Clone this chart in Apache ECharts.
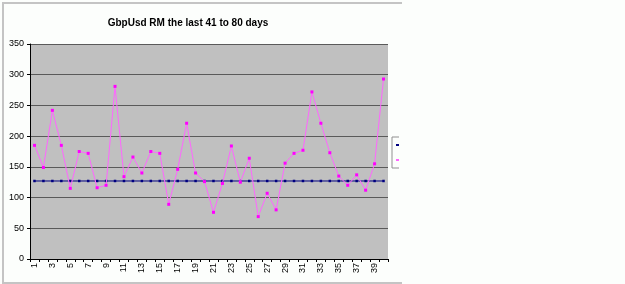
<!DOCTYPE html>
<html>
<head>
<meta charset="utf-8">
<script src="https://cdn.jsdelivr.net/npm/echarts@6/dist/echarts.min.js"></script>
<style>
  html, body { margin: 0; padding: 0; background: #fcfefc; }
  #clip { position: absolute; left: 0; top: 0; width: 399px; height: 284px; overflow: hidden; }
  #chart { position: absolute; left: 0; top: 0; width: 470px; height: 284px; }
  #frame { position: absolute; left: 2px; top: 2px; width: 398px; height: 278px;
           border-left: 2px solid #c4c4c4; border-top: 2px solid #c4c4c4; border-bottom: 2px solid #c4c4c4;
           pointer-events: none; }
</style>
</head>
<body>
<div id="clip"><div id="chart"></div></div>
<div id="frame"></div>
<script>
// day numbers 1..40
const days = [
  "1", "2", "3", "4", "5", "6", "7", "8", "9", "10",
  "11", "12", "13", "14", "15", "16", "17", "18", "19", "20",
  "21", "22", "23", "24", "25", "26", "27", "28", "29", "30",
  "31", "32", "33", "34", "35", "36", "37", "38", "39", "40"
];

// RM values
const rmValues = [
  185, 149, 242, 185, 115, 175, 172, 116, 120, 281,
  134, 166, 140, 175, 172, 89, 146, 221, 140, 126,
  76, 123, 184, 125, 164, 69, 107, 80, 156, 172,
  177, 272, 221, 173, 135, 120, 137, 112, 155, 293
];

// flat average line
const avgValues = days.map(() => 127);

const yTicks = { min: 0, max: 350, interval: 50 };

function drawChart() {
  const myChart = echarts.init(document.getElementById("chart"));
  const option = {
    animation: false,
    textStyle: { fontFamily: "Arial, 'Liberation Sans', sans-serif" },
    title: {
      text: "GbpUsd RM the last 41 to 80 days",
      left: 183,
      top: 13,
      textAlign: "center",
      textStyle: { fontSize: 10, fontWeight: "bold", color: "#000" }
    },
    legend: {
      orient: "vertical",
      left: 392,
      top: 137,
      padding: [4, 3, 4, 3],
      itemGap: 7,
      itemWidth: 14,
      itemHeight: 6,
      borderColor: "#909090",
      borderWidth: 1,
      backgroundColor: "#fcfefc",
      textStyle: { fontSize: 8, color: "#000" },
      data: ["Average", "RM"]
    },
    grid: { left: 30, top: 44, width: 358, height: 215, backgroundColor: "#c0c0c0", show: true, borderWidth: 0 },
    xAxis: {
      type: "category",
      data: days,
      boundaryGap: true,
      axisLine: { lineStyle: { color: "#000", width: 1 } },
      axisTick: { show: true, length: 3, interval: 0, lineStyle: { color: "#000" } },
      axisLabel: { rotate: 90, interval: 1, fontSize: 9, color: "#000", margin: 4 },
      splitLine: { show: false }
    },
    yAxis: {
      type: "value",
      min: yTicks.min,
      max: yTicks.max,
      interval: yTicks.interval,
      axisLine: { show: true, lineStyle: { color: "#000", width: 1 } },
      axisTick: { show: true, length: 3, lineStyle: { color: "#000" } },
      axisLabel: { fontSize: 9, color: "#000", margin: 6 },
      splitLine: { lineStyle: { color: "#5a5a5a", width: 1 } }
    },
    series: [
      {
        name: "Average",
        type: "line",
        data: avgValues,
        symbol: "rect",
        symbolSize: 2.5,
        itemStyle: { color: "#000080" },
        lineStyle: { color: "#000080", width: 1 },
        z: 3
      },
      {
        name: "RM",
        type: "line",
        data: rmValues,
        symbol: "rect",
        symbolSize: 3,
        itemStyle: { color: "#ff00ff" },
        lineStyle: { color: "#ff66ff", width: 1 },
        z: 4
      }
    ]
  };
  myChart.setOption(option);
}

drawChart();
</script>
</body>
</html>
